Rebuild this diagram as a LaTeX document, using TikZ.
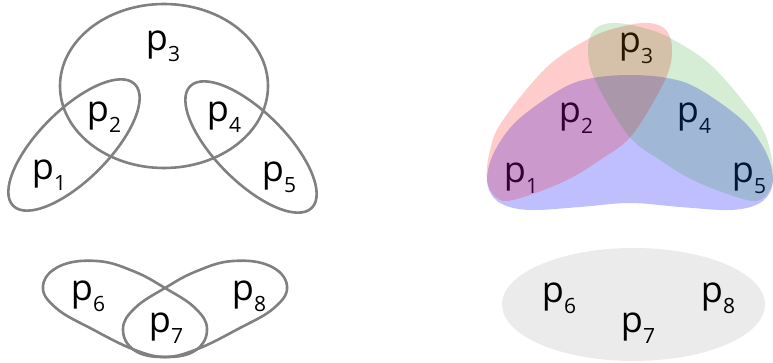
\documentclass[tikz,border=0pt]{standalone}
\usepackage{fontspec}
\setmainfont{Open Sans}
\newcommand\plab[1]{p\raisebox{-11pt}{\fontsize{21}{21}\selectfont #1}}
\definecolor{setred}{RGB}{255,0,0}
\definecolor{setgreen}{RGB}{0,140,0}
\definecolor{setblue}{RGB}{0,0,255}
\begin{document}
\begin{tikzpicture}[x=1pt,y=-1pt,
  lab/.style={font=\fontsize{36}{40}\selectfont, inner sep=0pt, anchor=base},
  ring/.style={draw=black!50, line width=2.6pt},
  blob/.style={smooth cycle, tension=0.6},
  egg/.style={smooth cycle, tension=0.7}]
\useasboundingbox (0,0) rectangle (773,363);

% ---------- left: hypergraph with outlines ----------
\draw[ring] (164,86) ellipse [x radius=104, y radius=82];
\draw[ring, rotate around={45:(74,145)}] (74,145) ellipse [x radius=86, y radius=35];
\draw[ring, rotate around={-45:(251,147)}] (251,147) ellipse [x radius=86, y radius=35];
\draw[ring] plot[egg] coordinates {
  (43,286) (60,266) (97,261) (133,271) (165,288) (195,308) (207,329)
  (196,350) (167,357) (135,350) (92,329) (56,308)};
\draw[ring] plot[egg] coordinates {
  (287,286) (270,266) (233,261) (197,271) (165,288) (135,308) (123,329)
  (134,350) (163,357) (195,350) (238,329) (274,308)};

\node[lab] (a1) at (49,180) {\plab{1}};
\node[lab] (a2) at (104,122) {\plab{2}};
\node[lab] (a3) at (163,51) {\plab{3}};
\node[lab] (a4) at (224,122) {\plab{4}};
\node[lab] (a5) at (279,182) {\plab{5}};
\node[lab] (a6) at (88,300) {\plab{6}};
\node[lab] (a7) at (166,332) {\plab{7}};
\node[lab] (a8) at (249,300) {\plab{8}};

% ---------- right: filled regions ----------
\node[lab] (b1) at (521,183) {\plab{1}};
\node[lab] (b2) at (576,123) {\plab{2}};
\node[lab] (b3) at (636,53) {\plab{3}};
\node[lab] (b4) at (694,123) {\plab{4}};
\node[lab] (b5) at (749,183) {\plab{5}};

\fill[setblue, opacity=0.25] plot[blob] coordinates {
  (630,75) (593,78) (563,88) (520,118) (498,145) (488,170) (489,190)
  (502,204) (530,210) (580,207) (630,203) (680,207) (730,210) (758,204)
  (771,190) (772,170) (762,145) (740,118) (697,88) (667,78)};
\fill[setred, opacity=0.2] plot[blob] coordinates {
  (487,180) (490,150) (503,120) (547,67) (590,38) (620,27) (648,23)
  (666,30) (672,50) (665,80) (632,135) (600,160) (563,182) (513,200)
  (496,197)};
\fill[setgreen, opacity=0.165] plot[blob] coordinates {
  (773,180) (770,150) (757,120) (713,67) (670,38) (640,27) (612,23)
  (594,30) (588,50) (595,80) (628,135) (660,160) (697,182) (747,200)
  (764,197)};

\fill[black!8] (633.5,304.5) ellipse [x radius=131.5, y radius=56.5];
\node[lab] (b6) at (559,302) {\plab{6}};
\node[lab] (b7) at (638,332) {\plab{7}};
\node[lab] (b8) at (718,302) {\plab{8}};
\end{tikzpicture}
\end{document}
